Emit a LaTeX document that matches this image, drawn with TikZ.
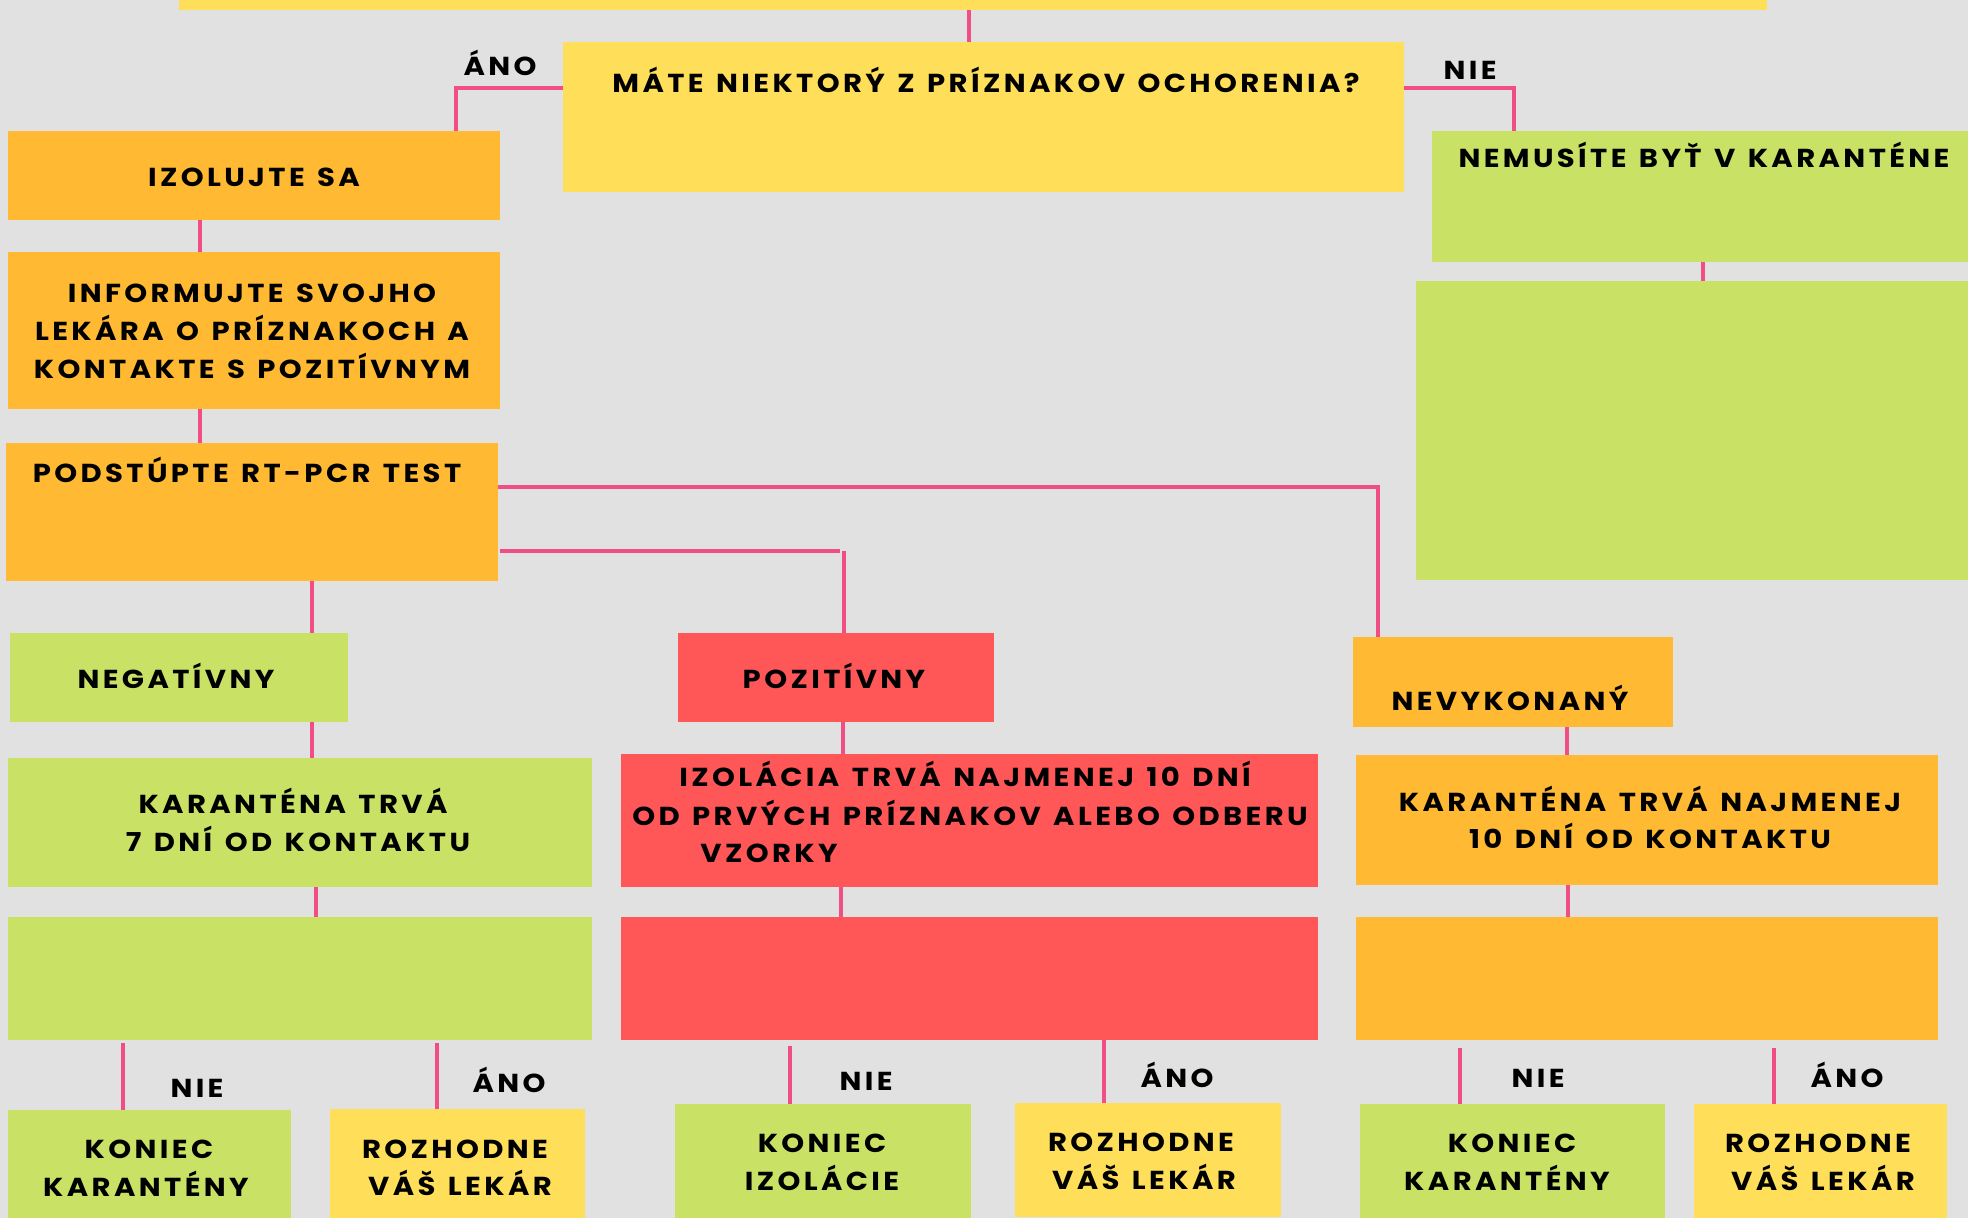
\documentclass[tikz,border=0pt]{standalone}
\usepackage{fontspec}
\setmainfont{Poppins}[LetterSpace=13,WordSpace=1.3,FakeStretch=1.12]
\usetikzlibrary{calc}
\definecolor{bg}{HTML}{E1E1E1}
\definecolor{cyel}{HTML}{FFDE59}
\definecolor{corg}{HTML}{FFB932}
\definecolor{cgrn}{HTML}{C9E265}
\definecolor{cred}{HTML}{FF5757}
\definecolor{cpnk}{HTML}{F24E86}
\tikzset{
  box/.style={draw=none, inner sep=0pt, outer sep=0pt, anchor=north west},
  txt/.style={inner sep=0pt, outer sep=0pt, anchor=base, yshift=-1.5pt, text=black, font=\fontsize{26}{30}\selectfont\bfseries},
  conn/.style={draw=cpnk, line width=4.5pt},
}
\newcommand\mybox[6]{\node[box, fill=#6, minimum width=#4pt-#2pt, minimum height=#5pt-#3pt] (#1) at (#2,#3) {};}
\begin{document}
\begin{tikzpicture}[x=1pt,y=-1pt]
\fill[bg] (0,0) rectangle (1968,1218);
\useasboundingbox (0,0) rectangle (1968,1218);
% boxes
\mybox{top}{179}{0}{1767}{10}{cyel}
\mybox{q}{563}{42}{1404}{192}{cyel}
\mybox{iz}{8}{131}{500}{220}{corg}
\mybox{nem}{1432}{131}{1968}{262}{cgrn}
\mybox{ng}{1416}{281}{1968}{580}{cgrn}
\mybox{inf}{8}{252}{500}{409}{corg}
\mybox{pod}{6}{443}{498}{581}{corg}
\mybox{neg}{10}{633}{348}{722}{cgrn}
\mybox{poz}{678}{633}{994}{722}{cred}
\mybox{nev}{1353}{637}{1673}{727}{corg}
\mybox{k7}{8}{758}{592}{887}{cgrn}
\mybox{izl}{621}{754}{1318}{887}{cred}
\mybox{k10}{1356}{755}{1938}{885}{corg}
\mybox{gb}{8}{917}{592}{1040}{cgrn}
\mybox{rb}{621}{917}{1318}{1040}{cred}
\mybox{ob}{1356}{917}{1938}{1040}{corg}
\mybox{kk1}{8}{1110}{291}{1218}{cgrn}
\mybox{rz1}{330}{1109}{585}{1218}{cyel}
\mybox{ki}{675}{1104}{971}{1218}{cgrn}
\mybox{rz2}{1015}{1103}{1281}{1217}{cyel}
\mybox{kk2}{1360}{1104}{1665}{1218}{cgrn}
\mybox{rz3}{1694}{1104}{1947}{1218}{cyel}
% connectors
\draw[conn] (top.south -| 969,0) -- (q.north -| 969,0);
\draw[conn] (q.west |- 0,88) -- (456,88) -- (iz.north -| 456,0);
\draw[conn] (q.east |- 0,88) -- (1514,88) -- (nem.north -| 1514,0);
\draw[conn] (nem.south -| 1703,0) -- (ng.north -| 1703,0);
\draw[conn] (iz.south -| 200,0) -- (inf.north -| 200,0);
\draw[conn] (inf.south -| 200,0) -- (pod.north -| 200,0);
\draw[conn] (pod.east |- 0,487) -- (1378,487) -- (nev.north -| 1378,0);
\draw[conn] ($(pod.east |- 0,551)+(2,0)$) -- (840,551);
\draw[conn] (844,551) -- (poz.north -| 844,0);
\draw[conn] (pod.south -| 312,0) -- (neg.north -| 312,0);
\draw[conn] (neg.south -| 312,0) -- (k7.north -| 312,0);
\draw[conn] (k7.south -| 316,0) -- (gb.north -| 316,0);
\draw[conn] (poz.south -| 843,0) -- (izl.north -| 843,0);
\draw[conn] (izl.south -| 841,0) -- (rb.north -| 841,0);
\draw[conn] (nev.south -| 1567,0) -- (k10.north -| 1567,0);
\draw[conn] (k10.south -| 1568,0) -- (ob.north -| 1568,0);
\draw[conn] ($(gb.south -| 123,0)+(0,3)$) -- (kk1.north -| 123,0);
\draw[conn] ($(gb.south -| 437,0)+(0,3)$) -- (rz1.north -| 437,0);
\draw[conn] ($(rb.south -| 790,0)+(0,6)$) -- (ki.north -| 790,0);
\draw[conn] (rb.south -| 1104,0) -- (rz2.north -| 1104,0);
\draw[conn] ($(ob.south -| 1460,0)+(0,8)$) -- (kk2.north -| 1460,0);
\draw[conn] ($(ob.south -| 1774,0)+(0,8)$) -- (rz3.north -| 1774,0);
% texts
\node[txt] (tq) at (986,90.5) {MÁTE NIEKTORÝ Z PRÍZNAKOV OCHORENIA?};
\node[txt] (la1) at (500,73.5) {ÁNO};
\node[txt] (ln1) at (1470,77.5) {NIE};
\node[txt] (tiz) at (254,184.5) {IZOLUJTE SA};
\node[txt] (tnem) at (1704,165.5) {NEMUSÍTE BYŤ V KARANTÉNE};
\node[txt] (tinf1) at (252,300.5) {INFORMUJTE SVOJHO};
\node[txt] (tinf2) at (252,338.5) {LEKÁRA O PRÍZNAKOCH A};
\node[txt] (tinf3) at (252,376.5) {KONTAKTE S POZITÍVNYM};
\node[txt] (tpod) at (247,480.5) {PODSTÚPTE RT-PCR TEST};
\node[txt] (tneg) at (176,686.5) {NEGATÍVNY};
\node[txt] (tpoz) at (834,686.5) {POZITÍVNY};
\node[txt] (tnev) at (1510,708.5) {NEVYKONANÝ};
\node[txt] (tk7a) at (293,811.5) {KARANTÉNA TRVÁ};
\node[txt] (tk7b) at (298,849.5) {7 DNÍ OD KONTAKTU};
\node[txt] (tizl1) at (965,784.5) {IZOLÁCIA TRVÁ NAJMENEJ 10 DNÍ};
\node[txt] (tizl2) at (970,823.5) {OD PRVÝCH PRÍZNAKOV ALEBO ODBERU};
\node[txt] (tizl3) at (769,860.5) {VZORKY};
\node[txt] (tk10a) at (1650,809.5) {KARANTÉNA TRVÁ NAJMENEJ};
\node[txt] (tk10b) at (1650,846.5) {10 DNÍ OD KONTAKTU};
\node[txt] (ln2) at (197,1095.5) {NIE};
\node[txt] (la2) at (509,1090.5) {ÁNO};
\node[txt] (ln3) at (866,1088.5) {NIE};
\node[txt] (la3) at (1177,1085.5) {ÁNO};
\node[txt] (ln4) at (1538,1085.5) {NIE};
\node[txt] (la4) at (1847,1085.5) {ÁNO};
\node[txt] (tkk1a) at (149,1156.5) {KONIEC};
\node[txt] (tkk1b) at (146,1194.5) {KARANTÉNY};
\node[txt] (trz1a) at (455,1156.5) {ROZHODNE};
\node[txt] (trz1b) at (460,1193.5) {VÁŠ LEKÁR};
\node[txt] (tkia) at (822,1150.5) {KONIEC};
\node[txt] (tkib) at (822,1188.5) {IZOLÁCIE};
\node[txt] (trz2a) at (1141,1149.5) {ROZHODNE};
\node[txt] (trz2b) at (1144,1187.5) {VÁŠ LEKÁR};
\node[txt] (tkk2a) at (1512,1150.5) {KONIEC};
\node[txt] (tkk2b) at (1507,1188.5) {KARANTÉNY};
\node[txt] (trz3a) at (1818,1150.5) {ROZHODNE};
\node[txt] (trz3b) at (1823,1188.5) {VÁŠ LEKÁR};
\end{tikzpicture}
\end{document}
